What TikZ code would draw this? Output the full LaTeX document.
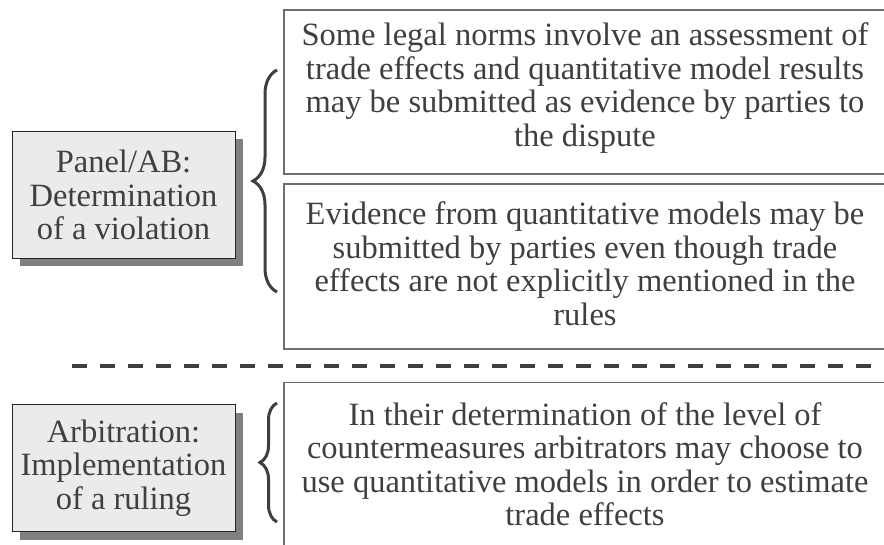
\documentclass[tikz,border=0pt]{standalone}
\usepackage{fontspec}
\setmainfont{Liberation Serif}
\usetikzlibrary{shadows,decorations.pathreplacing}
\definecolor{inkgray}{HTML}{3F3F3F}
\definecolor{framegray}{HTML}{6E6E6E}
\definecolor{boxfill}{HTML}{EBEBEB}
\definecolor{shadegray}{HTML}{808080}
\newcommand{\diagfont}{\fontsize{32.5}{33.5}\selectfont}
\tikzstyle{rolebox}=[draw=inkgray!60!black, thick, fill=boxfill, text=inkgray, font=\diagfont, align=center, minimum width=223pt, minimum height=127pt, inner sep=0pt, drop shadow={shadow xshift=8pt, shadow yshift=-8pt, fill=shadegray, opacity=1}]
\tikzstyle{normbox}=[draw=framegray, line width=1.4pt, text=inkgray, font=\diagfont, align=center, minimum width=602pt, inner sep=0pt]
\tikzstyle{normtext}=[text=inkgray, font=\diagfont, align=center, inner sep=0pt]
\tikzstyle{separator}=[draw=inkgray, line width=4pt, dash pattern=on 15pt off 13pt]
\tikzset{bracket/.style={draw=inkgray, line width=3pt, decorate, decoration={brace, amplitude=#1}}}

\begin{document}
\begin{tikzpicture}[x=1pt, y=1pt]

    \useasboundingbox (0,0) rectangle (884,-545);

    % left: who decides
    \foreach \y/\name/\txt in {195/panel/{Panel/AB:\\Determination\\of a violation}, 468/arbit/{Arbitration:\\Implementation\\of a ruling}}
        \node[rolebox] (\name) at (123.5,-\y) {\txt};

    % right: role of the models
    \node[normbox, minimum height=164pt] (norms) at (585,-92) {};
    \node[normtext] (normstext) at (585,-88) {Some legal norms involve an assessment of\\trade effects and quantitative model results\\may be submitted as evidence by parties to\\the dispute};
    \node[normbox, minimum height=165pt] (evid) at (585,-266.5) {};
    \node[normtext] (evidtext) at (585,-263.5) {Evidence from quantitative models may be\\submitted by parties even though trade\\effects are not explicitly mentioned in the\\rules};
    \node[normbox, minimum height=200pt, anchor=north] (arbbox) at (585,-382) {};
    \node[normtext] (counter) at (585,-464) {In their determination of the level of\\countermeasures arbitrators may choose to\\use quantitative models in order to estimate\\trade effects};

    % braces
    \coordinate (panelbot) at (277,-292);
    \coordinate (paneltop) at (277,-70);
    \coordinate (arbitbot) at (277,-522);
    \coordinate (arbittop) at (277,-403);
    \draw[bracket=24pt] (panelbot) -- (paneltop);
    \draw[bracket=17pt] (arbitbot) -- (arbittop);

    % dashed separator
    \coordinate (sepstart) at (72,-366);
    \coordinate (sepend) at (875,-366);
    \draw[separator] (sepstart) -- (sepend);

\end{tikzpicture}
\end{document}
